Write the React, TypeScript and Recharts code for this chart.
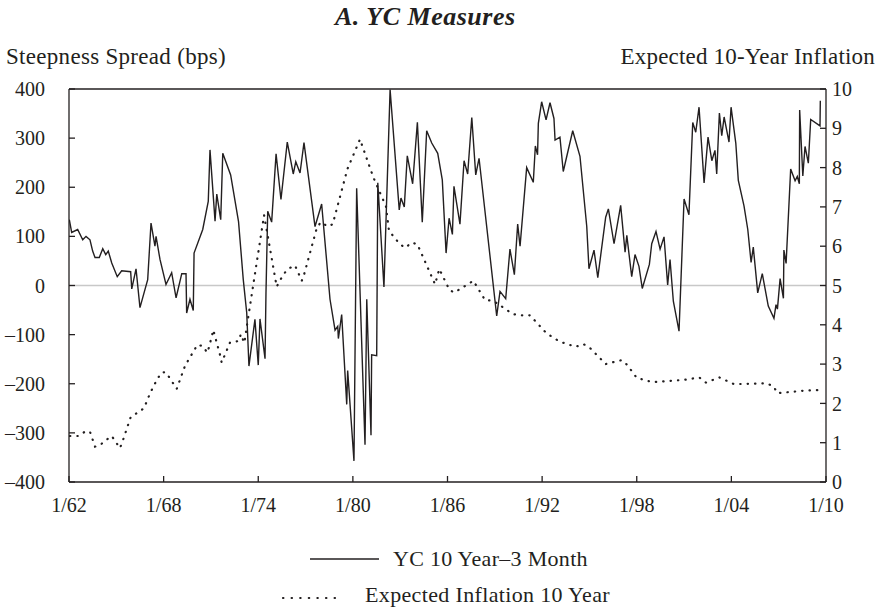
import React from 'react';
import { LineChart, Line, XAxis, YAxis, ReferenceLine } from 'recharts';

// YC 10 Year–3 Month spread (bps)
const ycYears = [
  1962.02, 1962.17, 1962.55, 1962.87, 1963.08, 1963.33, 1963.5, 1963.65, 1963.92, 1964.14,
  1964.33, 1964.49, 1964.71, 1965.06, 1965.34, 1965.91, 1965.98, 1966.25, 1966.5, 1966.99,
  1967.2, 1967.45, 1967.52, 1967.77, 1968.15, 1968.51, 1968.79, 1969.15, 1969.42, 1969.46,
  1969.67, 1969.88, 1969.93, 1970.48, 1970.83, 1970.94, 1971.26, 1971.37, 1971.62, 1971.75,
  1972.25, 1972.75, 1973.05, 1973.27, 1973.41, 1973.79, 1974.0, 1974.11, 1974.43, 1974.49,
  1974.6, 1974.85, 1975.13, 1975.44, 1975.84, 1976.22, 1976.38, 1976.65, 1976.9, 1977.6,
  1978.02, 1978.55, 1978.87, 1979.04, 1979.08, 1979.29, 1979.61, 1979.67, 1980.07, 1980.24,
  1980.77, 1980.88, 1981.15, 1981.19, 1981.51, 1981.58, 1981.97, 1982.36, 1982.94, 1983.05,
  1983.26, 1983.45, 1983.79, 1984.09, 1984.4, 1984.68, 1985.0, 1985.38, 1985.67, 1985.91,
  1986.1, 1986.31, 1986.41, 1986.79, 1987.05, 1987.28, 1987.54, 1987.79, 1988.0, 1989.12,
  1989.33, 1989.69, 1989.96, 1990.24, 1990.45, 1990.6, 1991.02, 1991.44, 1991.57, 1991.71,
  1991.76, 1991.97, 1992.25, 1992.5, 1992.75, 1992.82, 1993.13, 1993.34, 1993.94, 1994.4,
  1994.83, 1994.97, 1995.29, 1995.53, 1996.03, 1996.2, 1996.56, 1996.98, 1997.26, 1997.37,
  1997.68, 1997.89, 1998.14, 1998.35, 1998.8, 1998.95, 1999.22, 1999.48, 1999.73, 1999.96,
  2000.11, 2000.32, 2000.68, 2001.0, 2001.31, 2001.55, 2001.74, 2001.95, 2002.27, 2002.52,
  2002.76, 2002.96, 2003.07, 2003.24, 2003.39, 2003.54, 2003.85, 2003.98, 2004.28, 2004.44,
  2004.8, 2005.04, 2005.25, 2005.39, 2005.67, 2005.96, 2006.34, 2006.7, 2006.83, 2006.92,
  2007.09, 2007.3, 2007.33, 2007.47, 2007.76, 2008.04, 2008.18, 2008.31, 2008.33, 2008.53,
  2008.67, 2008.88, 2009.03, 2009.62, 2009.64,
];
const ycSpread = [
  134, 108, 114, 93, 100, 93, 70, 57, 57, 75,
  63, 70, 46, 18, 30, 28, -7, 34, -45, 12,
  127, 80, 100, 53, 2, 26, -25, 24, 24, -56,
  -28, -51, 66, 114, 171, 276, 131, 186, 134, 269,
  225, 130, 12, -56, -164, -69, -162, -68, -149, -15,
  151, 129, 268, 175, 292, 227, 252, 229, 291, 120,
  166, -28, -91, -83, -108, -59, -242, -173, -357, 198,
  -324, -28, -305, -141, -143, 209, -3, 399, 154, 178,
  160, 264, 207, 332, 129, 315, 290, 269, 215, 66,
  137, 104, 202, 125, 254, 227, 342, 225, 259, -62,
  -12, -27, 74, 22, 125, 80, 240, 210, 284, 266,
  330, 374, 337, 372, 340, 296, 302, 232, 315, 263,
  120, 34, 72, 16, 139, 156, 85, 163, 68, 102,
  18, 63, 39, -6, 43, 85, 110, 74, 99, 1,
  53, -32, -93, 176, 144, 332, 312, 363, 209, 302,
  254, 275, 227, 351, 305, 343, 292, 363, 290, 214,
  162, 114, 47, 78, -15, 24, -42, -67, -39, -48,
  14, -26, 72, 45, 237, 213, 222, 207, 357, 223,
  283, 249, 338, 325, 376,
];

// Expected 10-year inflation (%)
const inflYears = [
  1962.06, 1962.59, 1963.01, 1963.33, 1963.65, 1963.97, 1964.35, 1964.71, 1965.23, 1965.41,
  1965.91, 1966.33, 1966.76, 1967.14, 1967.6, 1967.88, 1968.15, 1968.83, 1969.36, 1970.14,
  1970.48, 1970.77, 1970.9, 1971.15, 1971.58, 1971.68, 1972.21, 1972.78, 1972.89, 1973.12,
  1973.27, 1974.37, 1975.17, 1975.59, 1975.91, 1976.33, 1976.76, 1976.9, 1977.71, 1977.96,
  1978.44, 1978.72, 1979.65, 1980.45, 1981.3, 1982.1, 1982.29, 1982.94, 1983.31, 1983.73,
  1984.09, 1985.21, 1985.48, 1986.12, 1986.43, 1987.64, 1988.38, 1988.91, 1989.75, 1990.17,
  1990.71, 1991.23, 1992.29, 1993.13, 1994.13, 1994.61, 1994.99, 1996.03, 1996.51, 1997.05,
  1997.37, 1998.0, 1998.99, 2000.0, 2001.02, 2001.97, 2002.39, 2003.24, 2004.17, 2006.2,
  2006.66, 2006.92, 2007.47, 2008.46, 2009.52,
];
const inflValues = [
  1.17, 1.17, 1.28, 1.28, 0.9, 0.94, 1.07, 1.17, 0.86, 1.05,
  1.65, 1.76, 1.88, 2.26, 2.62, 2.79, 2.79, 2.37, 2.96, 3.49,
  3.46, 3.29, 3.46, 3.87, 3.23, 3.04, 3.55, 3.59, 3.76, 3.54,
  3.95, 6.79, 4.97, 5.28, 5.43, 5.51, 5.12, 5.27, 6.46, 6.61,
  6.5, 6.56, 7.96, 8.72, 7.75, 7.01, 6.39, 6.07, 5.96, 6.09,
  6.05, 5.03, 5.42, 4.89, 4.82, 5.12, 4.63, 4.61, 4.38, 4.27,
  4.24, 4.24, 3.78, 3.57, 3.44, 3.51, 3.43, 3.0, 3.05, 3.1,
  2.99, 2.65, 2.54, 2.57, 2.6, 2.66, 2.53, 2.66, 2.49, 2.51,
  2.44, 2.26, 2.28, 2.32, 2.34,
];

const xTicks = [1962, 1968, 1974, 1980, 1986, 1992, 1998, 2004, 2010];
const xTickLabels = ['1/62', '1/68', '1/74', '1/80', '1/86', '1/92', '1/98', '1/04', '1/10'];
const leftTicks = [-400, -300, -200, -100, 0, 100, 200, 300, 400];
const rightTicks = [0, 1, 2, 3, 4, 5, 6, 7, 8, 9, 10];

const ycData = ycYears.map((t, i) => ({ t, yc: ycSpread[i] }));
const inflData = inflYears.map((t, i) => ({ t, infl: inflValues[i] }));

const FONT = '"Liberation Serif", "DejaVu Serif", serif';
const INK = '#231f20';
const tickStyle = { fontFamily: FONT, fontSize: 20, fill: INK };
const fmtNum = (v: number) => (v < 0 ? '\u2013' + Math.abs(v) : String(v));

export default function App() {
  return (
    <div style={{ position: 'relative', width: 881, height: 610, background: '#fff', fontFamily: FONT, color: INK }}>
      <style>{'body{margin:0}'}</style>
      <div style={{ position: 'absolute', top: 2, left: 335, fontSize: 26, fontWeight: 'bold', fontStyle: 'italic', letterSpacing: 0.5, whiteSpace: 'nowrap' }}>
        A. YC Measures
      </div>
      <div style={{ position: 'absolute', top: 44, left: 6, fontSize: 23, letterSpacing: 0.3, whiteSpace: 'nowrap' }}>
        Steepness Spread (bps)
      </div>
      <div style={{ position: 'absolute', top: 44, right: 6, fontSize: 23, letterSpacing: 0.2, whiteSpace: 'nowrap' }}>
        Expected 10-Year Inflation
      </div>

      <LineChart width={881} height={610} margin={{ top: 89, right: 10, bottom: 98, left: 9 }}>
        <XAxis
          dataKey="t"
          type="number"
          domain={[1962, 2010]}
          ticks={xTicks}
          allowDataOverflow
          tickFormatter={(v: number) => xTickLabels[xTicks.indexOf(v)]}
          tickSize={-6}
          tickMargin={22}
          height={30}
          stroke={INK}
          strokeWidth={1.3}
          tick={tickStyle}
          interval={0}
        />
        <YAxis
          yAxisId="left"
          domain={[-400, 400]}
          ticks={leftTicks}
          tickFormatter={fmtNum}
          tickSize={-6}
          tickMargin={30}
          width={60}
          stroke={INK}
          strokeWidth={1.3}
          tick={tickStyle}
          interval={0}
        />
        <YAxis
          yAxisId="right"
          orientation="right"
          domain={[0, 10]}
          ticks={rightTicks}
          tickSize={-6}
          tickMargin={12}
          width={45}
          stroke={INK}
          strokeWidth={1.3}
          tick={tickStyle}
          interval={0}
        />
        <ReferenceLine yAxisId="left" y={0} stroke="#c8c8c8" strokeWidth={1.5} />
        <ReferenceLine yAxisId="left" y={400} stroke={INK} strokeWidth={1.3} />
        <Line
          yAxisId="right"
          data={inflData}
          dataKey="infl"
          stroke={INK}
          strokeWidth={2.2}
          strokeDasharray="0.4 7"
          strokeLinecap="round"
          dot={false}
          isAnimationActive={false}
        />
        <Line
          yAxisId="left"
          data={ycData}
          dataKey="yc"
          stroke={INK}
          strokeWidth={1.4}
          dot={false}
          isAnimationActive={false}
        />
      </LineChart>

      <div style={{ position: 'absolute', top: 546, left: 310, display: 'flex', alignItems: 'center', fontSize: 22, letterSpacing: 0.3, whiteSpace: 'nowrap' }}>
        <svg width={70} height={10} style={{ marginRight: 13 }}>
          <line x1={0} y1={5} x2={69} y2={5} stroke={INK} strokeWidth={1.4} />
        </svg>
        <span>YC 10 Year–3 Month</span>
      </div>
      <div style={{ position: 'absolute', top: 582, left: 281, display: 'flex', alignItems: 'center', fontSize: 22, letterSpacing: 0.35, whiteSpace: 'nowrap' }}>
        <svg width={64} height={12} style={{ marginRight: 20 }}>
          <line x1={2} y1={9} x2={62} y2={9} stroke={INK} strokeWidth={2.2} strokeDasharray="0.4 8.2" strokeLinecap="round" />
        </svg>
        <span>Expected Inflation 10 Year</span>
      </div>
    </div>
  );
}
